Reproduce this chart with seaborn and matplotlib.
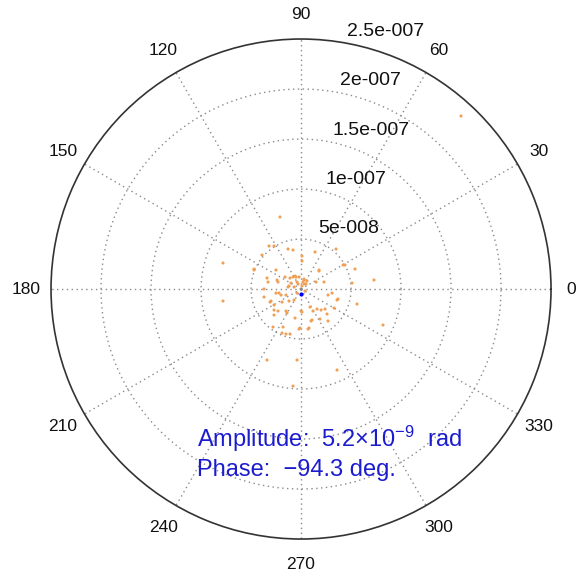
import numpy as np
import pandas as pd
import matplotlib
matplotlib.use("Agg")
import matplotlib.pyplot as plt
import seaborn as sns

# in-phase / quadrature components of each measurement, unit 1e-9 rad
re_part = [160, -78, -78, -21, 73, 82, -34, -4, 36, -8,
           -32, -27, -8, 14, 35, -39, 1, -47, 1, 18, 42, 54,
           -34, -24, -16, -11, -6, -2, 3, 4, -4, -12, -7, -37,
           -25, -22, -15, -4, 23, 51, 31, 27, 37, -37, -31, -27,
           -19, -7, 1, 9, 16, 24, 26, 33, 56, -27, -14, -6,
           -19, -15, -11, -1, 8, 11, 19, -25, -33, -23, -8, 15,
           -10, -13, -20, -23, -12, 0, -28, -18, 27, 10, -2, 7,
           5, 3, -5, -30, 20, 12, -15, -27, 18, 2, 6, 1, -3, 4,
           -47, 44, -13, 36]
im_part = [173, 26, -12, 72, 9, -36, -71, -71, -81, -97,
           43, 43, 39, 37, 40, 34, 33, 20, 28, 19, 24, 20,
           11, 9, 12, 11, 13, 12, 9, 5, 7, 3, 2, 0,
           -4, -4, -6, -4, 7, 6, -4, -6, -10, -8, -13, -16,
           -13, -11, -23, -18, -20, -20, -25, -19, -15, -26, -24, -29,
           -44, -45, -45, -39, -39, -31, -30, 19, 7, 7, 12, 7,
           6, 2, -6, -22, -12, -22, -38, -38, -32, -32, -40, -40,
           5, 10, 12, -12, -21, -22, -22, -21, 18, 7, 8, 3, 5, -2,
           19, 24, 40, -11]

mean_amp = 5.2e-9
mean_phase_deg = -94.3

ring_values = [5e-8, 1e-7, 1.5e-7, 2e-7, 2.5e-7]
ring_labels = ["5e-008", "1e-007", "1.5e-007", "2e-007", "2.5e-007"]
angle_ticks = list(range(0, 360, 30))

z = (np.array(re_part) + 1j * np.array(im_part)) * 1e-9
df = pd.DataFrame({"theta": np.angle(z), "r": np.abs(z)})

plt.rcParams["font.family"] = ["Liberation Sans", "DejaVu Sans"]
plt.rcParams["mathtext.fontset"] = "custom"
plt.rcParams["mathtext.rm"] = "Liberation Sans"
plt.rcParams["mathtext.it"] = "Liberation Sans"

fig = plt.figure(figsize=(5.79, 5.73), dpi=100)
ax = fig.add_axes([0.0881, 0.0593, 0.8636, 0.8726], projection="polar")

rmax = 2.5e-7
ax.set_ylim(0, rmax)
ax.set_yticks(ring_values[:-1])
ax.set_yticklabels([])
ax.set_xticks(np.deg2rad(angle_ticks))
ax.set_xticklabels([])
ax.grid(True, linestyle=(0, (1, 2.5)), color="#8a8a8a", linewidth=1.0)
ax.spines["polar"].set_color("#333333")
ax.spines["polar"].set_linewidth(1.2)

sns.scatterplot(data=df, x="theta", y="r", ax=ax, color="#f0a055",
                s=5, edgecolor="none", legend=False, zorder=3)
ax.plot([np.deg2rad(mean_phase_deg)], [mean_amp], marker="o", color="blue",
        markersize=2, linestyle="none", zorder=4)
ax.set_xlabel("")
ax.set_ylabel("")

# radial labels, MATLAB-style near the 80 deg spoke
for val, lab in zip(ring_values, ring_labels):
    ax.annotate(lab, xy=(np.deg2rad(81.7), val), xytext=(7, 1.5),
                textcoords="offset points", ha="left", va="bottom",
                fontsize=14, color="#111111", annotation_clip=False)

for a in angle_ticks:
    rr = rmax * (1.08 if a == 0 else 1.1)
    ax.text(np.deg2rad(a), rr, str(a), ha="center", va="center",
            fontsize=12.5, color="#111111")

fig.text(0.340, 0.220, r"Amplitude:  5.2$\times$10$^{-9}$  rad",
         fontsize=17, color="#1c1ccf", ha="left", va="baseline")
fig.text(0.340, 0.169, "Phase:  \u221294.3 deg.",
         fontsize=17, color="#1c1ccf", ha="left", va="baseline")

fig.savefig("out.png", dpi=100)
